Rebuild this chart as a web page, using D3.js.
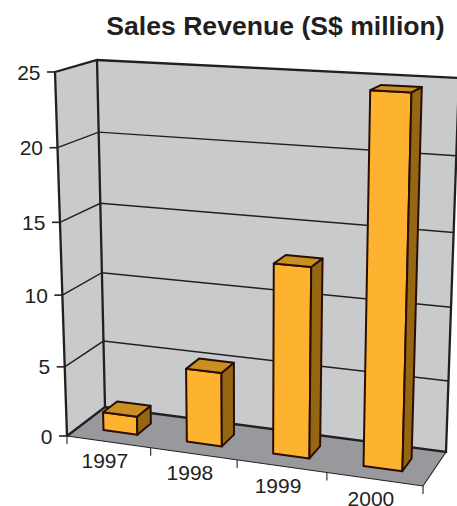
<!DOCTYPE html>
<html>
<head>
<meta charset="utf-8">
<script src="https://cdn.jsdelivr.net/npm/d3@7"></script>
<style>
html,body{margin:0;padding:0;background:#fff;overflow:hidden}
svg{display:block}
text{font-family:"Liberation Sans",Arial,sans-serif;fill:#231f20}
</style>
</head>
<body>
<svg id="chart" width="457" height="506"></svg>
<script>
const categories = ["1997", "1998", "1999", "2000"];
const revenue = [1.3, 5.2, 13, 24.6];
const valueTicks = [0, 5, 10, 15, 20, 25];
const titleText = "Sales Revenue (S$ million)";

// Box corners of the 3-D plot: front/back, left/right, bottom/top.
const box = {
  flb: [67, 436], frb: [423, 486], blb: [105, 407], brb: [446, 452],
  flt: [55, 72],  frt: [433, 92],  blt: [97, 60],   brt: [459, 78]
};

// Perspective foreshortening along the category and value axes.
const uScale = d3.scaleLinear().domain([0, 1, 2, 3, 4]).range([0, 0.235, 0.478, 0.73, 1]);
const wScale = d3.scaleLinear().domain(valueTicks).range([0, 0.19, 0.387, 0.587, 0.792, 1]);
const barDepth = [0.32, 0.7];
const barInset = 0.295;

const mix = (a, b, t) => [a[0] + (b[0] - a[0]) * t, a[1] + (b[1] - a[1]) * t];

// Maps (category position, depth, value) to screen coordinates.
function project(cat, depth, value) {
  const u = uScale(cat), w = wScale(value);
  const bottom = mix(mix(box.flb, box.frb, u), mix(box.blb, box.brb, u), depth);
  const top = mix(mix(box.flt, box.frt, u), mix(box.blt, box.brt, u), depth);
  return mix(bottom, top, w);
}

const svg = d3.select("#chart");
const line = d3.line();
const closed = d3.line().curve(d3.curveLinearClosed);
const ink = "#231f20";
const barInk = "#2a0d05";

const nCat = categories.length;
const yMax = valueTicks[valueTicks.length - 1];

// Walls and floor
svg.append("path").attr("d", closed([project(0,0,0), project(0,1,0), project(0,1,yMax), project(0,0,yMax)])).attr("fill", "#c8cacc");
svg.append("path").attr("d", closed([project(0,1,0), project(nCat,1,0), project(nCat,1,yMax), project(0,1,yMax)])).attr("fill", "#c8cacc");
svg.append("path").attr("d", closed([project(0,0,0), project(nCat,0,0), project(nCat,1,0), project(0,1,0)])).attr("fill", "#98999c");

// Horizontal gridlines across the left and back walls
svg.append("g").selectAll("path").data(valueTicks.slice(1, -1)).join("path")
  .attr("d", v => line([project(0,0,v), project(0,1,v), project(nCat,1,v)]))
  .attr("fill", "none").attr("stroke", ink).attr("stroke-width", 1.4);

// Heavy frame lines
const heavy = [
  [project(0,0,0), project(0,0,yMax), project(0,1,yMax), project(nCat,1,yMax)],
  [project(0,1,yMax), project(0,1,0)],
  [project(0,0,0), project(0,1,0), project(nCat,1,0), project(nCat,1,yMax)]
];
svg.append("g").selectAll("path").data(heavy).join("path")
  .attr("d", d => line(d)).attr("fill", "none").attr("stroke", ink).attr("stroke-width", 2.3);

// Thin floor edges
svg.append("path").attr("d", line([project(0,0,0), project(nCat,0,0), project(nCat,1,0)]))
  .attr("fill", "none").attr("stroke", ink).attr("stroke-width", 1.1);

// Value axis ticks and labels
const yAxis = svg.append("g").selectAll("g").data(valueTicks).join("g")
  .attr("transform", v => `translate(${project(0,0,v)})`);
yAxis.append("line").attr("x1", -8).attr("x2", 0).attr("stroke", ink).attr("stroke-width", 1.6);
yAxis.append("text").text(v => v).attr("x", -14.5).attr("y", 7.5)
  .attr("text-anchor", "end").attr("font-size", 21);

// Category axis ticks and labels
svg.append("g").selectAll("line").data(d3.range(nCat + 1)).join("line")
  .attr("x1", i => project(i,0,0)[0]).attr("x2", i => project(i,0,0)[0])
  .attr("y1", i => project(i,0,0)[1]).attr("y2", i => project(i,0,0)[1] + 8)
  .attr("stroke", ink).attr("stroke-width", 1.1);
svg.append("g").selectAll("text").data(categories).join("text")
  .text(d => d).attr("text-anchor", "middle").attr("font-size", 21)
  .attr("x", (d, i) => project(i + 0.5,0,0)[0] - 4)
  .attr("y", (d, i) => project(i + 0.5,0,0)[1] + 26.5);

// Bars: front, side and top faces
const bars = svg.append("g").selectAll("g").data(revenue).join("g");
const faceStyle = s => s.attr("stroke", barInk).attr("stroke-width", 2).attr("stroke-linejoin", "round");
bars.append("path").attr("d", (v, i) => {
  const a = i + barInset, b = i + 1 - barInset, [f] = barDepth;
  return closed([project(a,f,0), project(b,f,0), project(b,f,v), project(a,f,v)]);
}).attr("fill", "#fdb32f").call(faceStyle);
bars.append("path").attr("d", (v, i) => {
  const b = i + 1 - barInset, [f, k] = barDepth;
  return closed([project(b,f,0), project(b,k,0), project(b,k,v), project(b,f,v)]);
}).attr("fill", "#956712").call(faceStyle);
bars.append("path").attr("d", (v, i) => {
  const a = i + barInset, b = i + 1 - barInset, [f, k] = barDepth;
  return closed([project(a,f,v), project(b,f,v), project(b,k,v), project(a,k,v)]);
}).attr("fill", "#c98f20").call(faceStyle);

svg.append("text").text(titleText).attr("x", 275.5).attr("y", 35)
  .attr("text-anchor", "middle").attr("font-size", 26.6).attr("font-weight", "bold");
</script>
</body>
</html>
